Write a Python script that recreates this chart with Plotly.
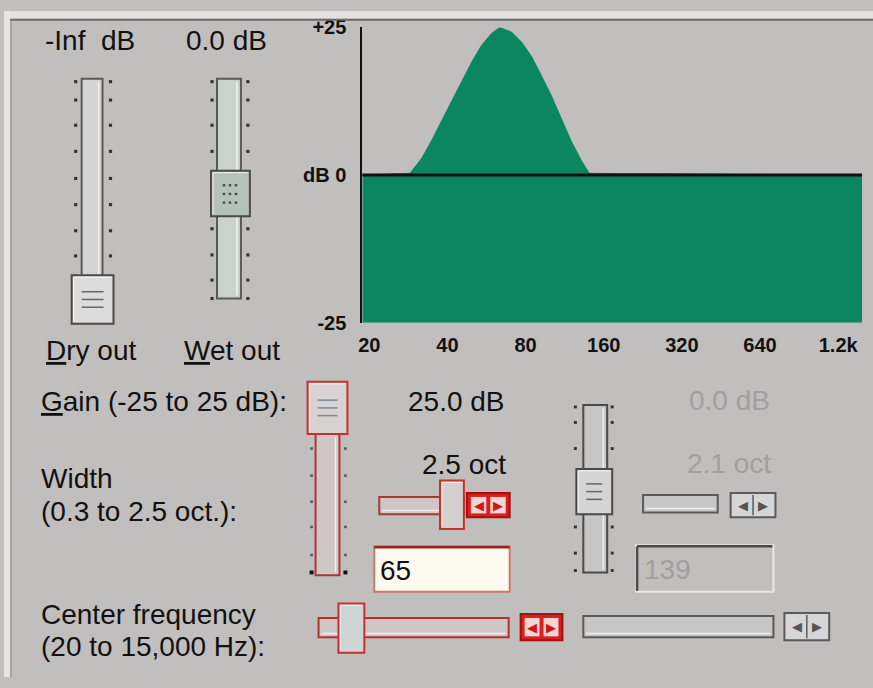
import math
import plotly.graph_objects as go

W, H = 873, 688

# ---- data ----
freq_hz = [18.8, 28.7, 31.9, 34.9, 38.1, 41.6, 45.5, 49.7, 54.2, 59.2, 63.6,
           70.7, 77.2, 84.3, 92.1, 100.6, 110, 120, 131, 140.7, 1582]
gain_db = [0, 0.3, 2.9, 6.0, 9.3, 12.6, 16.0, 19.2, 22.0, 24.0, 25.0,
           24.2, 22.5, 20.1, 16.8, 13.4, 9.5, 5.7, 2.5, 0.3, 0]
tick_hz = [20, 40, 80, 160, 320, 640, 1280]
tick_text = ["20", "40", "80", "160", "320", "640", "1.2k"]
db_ticks = [-25, 0, 25]
db_text = ["-25", "dB 0", "+25"]
Y_MIN, Y_MAX = -25, 25

BG = "#c1bebe"
GREEN = "#0b8760"
FONT = "Liberation Sans, Arial, sans-serif"
FS = 28

fig = go.Figure()
fig.add_trace(go.Scatter(x=[freq_hz[0], freq_hz[-1]], y=[Y_MIN, Y_MIN], mode="lines",
                         line=dict(width=0, color=GREEN), hoverinfo="skip", showlegend=False))
fig.add_trace(go.Scatter(x=freq_hz, y=gain_db, mode="lines", fill="tonexty",
                         fillcolor=GREEN, line=dict(width=1, color=GREEN),
                         hoverinfo="skip", showlegend=False))

shapes, annots = [], []

def px(x):
    return x / W

def py(y):
    return 1 - y / H

def rect(x0, y0, x1, y1, fill=None, line=None, lw=1):
    shapes.append(dict(type="rect", xref="paper", yref="paper",
                       x0=px(x0), x1=px(x1), y0=py(y1), y1=py(y0),
                       fillcolor=fill if fill else "rgba(0,0,0,0)",
                       line=dict(color=line if line else "rgba(0,0,0,0)", width=lw if line else 0),
                       layer="above"))

def seg(x0, y0, x1, y1, color, lw=1):
    shapes.append(dict(type="line", xref="paper", yref="paper",
                       x0=px(x0), x1=px(x1), y0=py(y0), y1=py(y1),
                       line=dict(color=color, width=lw), layer="above"))

def text(x, y, s, size=FS, color="#111", anchor="left", bold=False):
    if bold:
        s = "<b>" + s + "</b>"
    annots.append(dict(x=px(x), y=py(y), xref="paper", yref="paper", text=s,
                       showarrow=False, xanchor=anchor, yanchor="middle",
                       font=dict(family=FONT, size=size, color=color)))

def dot(x, y, color="#333", s=1.6):
    rect(x - s, y - s, x + s, y + s, fill=color)

RED = "#c8302a"

def thumb(x0, y0, x1, y1, edge, fill, lines=True, line_col="#666"):
    rect(x0, y0, x1, y1, fill=fill, line=edge, lw=2)
    seg(x0 + 2, y0 + 2, x1 - 2, y0 + 2, "#f4f4f4", 1)
    seg(x0 + 2, y0 + 2, x0 + 2, y1 - 2, "#f4f4f4", 1)
    if lines:
        cy = (y0 + y1) / 2
        for d in (-8, 0, 8):
            seg(x0 + 10, cy + d, x1 - 10, cy + d, line_col, 1.5)

def vtrack(x0, y0, x1, y1, edge, fill):
    rect(x0, y0, x1, y1, fill=fill, line=edge, lw=2)
    seg(x1 - 4, y0 + 3, x1 - 4, y1 - 3, "#f0f0f0", 1.5)

def htrack(x0, y0, x1, y1, edge, fill):
    rect(x0, y0, x1, y1, fill=fill, line=edge, lw=2)
    seg(x0 + 3, y1 - 4, x1 - 3, y1 - 4, "#f0f0f0", 1.5)

def buttons(x0, y0, x1, y1, enabled=True):
    xm = (x0 + x1) / 2
    if enabled:
        rect(x0, y0, x1, y1, fill="#d81e1e", line="#a81010", lw=2)
        rect(x0 + 4, y0 + 4, xm - 2, y1 - 4, fill="#f6d6d2")
        rect(xm + 2, y0 + 4, x1 - 4, y1 - 4, fill="#f6d6d2")
        c = "#d01818"
    else:
        rect(x0, y0, x1, y1, fill="#d6d6d6", line="#5a5a5a", lw=2)
        seg(xm, y0 + 2, xm, y1 - 2, "#5a5a5a", 1.5)
        c = "#555"
    yc = (y0 + y1) / 2
    text((x0 + xm) / 2 + 1, yc, "◀", size=13, color=c, anchor="center")
    text((xm + x1) / 2 - 1, yc, "▶", size=13, color=c, anchor="center")

# window frame
rect(0, 0, W, 8, fill="#e4e0e0")
seg(0, 9, W, 9, "#6a6a6a", 2)
rect(0, 0, 6, H, fill="#e6e6de")
seg(7, 9, 7, H, "#8a8a8a", 1)

# ---- Dry / Wet faders ----
text(86, 30, "-Inf  dB", anchor="center")
text(224, 30, "0.0 dB", anchor="center")
vtrack(78, 70, 99, 297, "#5a5a5a", "#d4d4d4")
for y in [73, 92, 118, 145, 173, 200, 227, 253]:
    dot(72, y)
    dot(107, y)
thumb(68, 273, 110, 323, "#4a4a4a", "#dcdcdc")
vtrack(214, 70, 238, 297, "#5a5a5a", "#c9d3cd")
for y in [73, 92, 118, 145, 225, 252, 278, 297]:
    dot(209, y)
    dot(245, y)
thumb(208, 165, 247, 212, "#4a4a4a", "#b4c2b9", lines=False)
for yy in (180, 189, 198):
    for xx in (221, 227, 233):
        dot(xx, yy, "#3a4a40", 1.2)
text(87, 351, "<u>D</u>ry out", anchor="center")
text(229, 351, "<u>W</u>et out", anchor="center")

# ---- labels left ----
text(35, 403, "<u>G</u>ain (-25 to 25 dB):")
text(35, 483, "Width")
text(35, 517, "(0.3 to 2.5 oct.):")
text(35, 623, "Center frequency")
text(35, 657, "(20 to 15,000 Hz):")

# ---- enabled band controls (red) ----
vtrack(313, 437, 337, 583, "#a83a30", "#cfc6c6")
for y in [452, 480, 507, 533, 562]:
    dot(309, y, "#555", 1.3)
    dot(343, y, "#555", 1.3)
dot(309, 580, "#111", 2)
dot(343, 580, "#111", 2)
thumb(305, 383, 345, 437, RED, "#d9d2d2", line_col="#7a8a9a")
text(455, 403, "25.0 dB", anchor="center")

text(462, 468, "2.5 oct", anchor="center")
htrack(377, 502, 462, 520, "#a83a30", "#cfc6c6")
thumb(438, 485, 462, 535, RED, "#d4d0d0", lines=False)
buttons(465, 498, 508, 523)

rect(372, 553, 508, 600, fill="#fffaf0", line="#c87a6a", lw=2)
seg(372, 554, 508, 554, "#a02020", 2.5)
text(376, 578, "65", color="#111")

htrack(316, 627, 507, 647, "#b8302a", "#cfc6c6")
thumb(336, 612, 362, 663, RED, "#cfd4d4", lines=False)
buttons(519, 623, 561, 650)

# ---- disabled band controls (gray) ----
vtrack(582, 407, 606, 580, "#4a4a4a", "#c6c6c6")
for y in [409, 425, 452, 533, 560, 578]:
    dot(574, y, "#333", 1.5)
    dot(611, y, "#333", 1.5)
thumb(575, 473, 611, 520, "#4a4a4a", "#d4d4d4")
text(729, 402, "0.0 dB", color="#a0a0a0", anchor="center")
text(728, 467, "2.1 oct", color="#a0a0a0", anchor="center")
htrack(642, 500, 717, 518, "#5a5a5a", "#c6c6c6")
buttons(730, 498, 775, 523, enabled=False)
rect(635, 552, 773, 600, fill=BG, line="#e8e8e8", lw=2)
seg(636, 553, 772, 553, "#4a4a4a", 2.5)
seg(636, 553, 636, 599, "#4a4a4a", 2.5)
text(641, 577, "139", color="#a0a0a0")
htrack(582, 625, 773, 647, "#5a5a5a", "#c6c6c6")
buttons(784, 622, 829, 650, enabled=False)

# zero reference line in the response display
shapes.append(dict(type="line", xref="x domain", yref="y", x0=0, x1=1, y0=0, y1=0,
                   line=dict(color="#111", width=3), layer="above"))

fig.update_layout(
    width=W, height=H, margin=dict(l=0, r=0, t=0, b=0),
    paper_bgcolor=BG, plot_bgcolor=BG, showlegend=False,
    shapes=shapes, annotations=annots,
    xaxis=dict(type="log", domain=[360 / W, 862 / W],
               range=[math.log10(freq_hz[0]), math.log10(freq_hz[-1])],
               tickvals=tick_hz, ticktext=["<b>%s</b>" % t for t in tick_text],
               tickfont=dict(family=FONT, size=20, color="#111"),
               ticklabelstandoff=8,
               showgrid=False, zeroline=False, showline=False, ticks="", fixedrange=True),
    yaxis=dict(domain=[1 - 322 / H, 1 - 17 / H], range=[Y_MIN, Y_MAX],
               tickvals=db_ticks, ticktext=["<b>%s</b>" % t for t in db_text],
               tickfont=dict(family=FONT, size=20, color="#111"),
               ticklabelstandoff=10,
               showgrid=False, zeroline=False, showline=True, linecolor="#111",
               linewidth=2, ticks="", fixedrange=True),
)

fig.write_html("out.html", config={"displayModeBar": False},
               post_script="document.body.style.margin='0';document.body.style.overflow='hidden';")
